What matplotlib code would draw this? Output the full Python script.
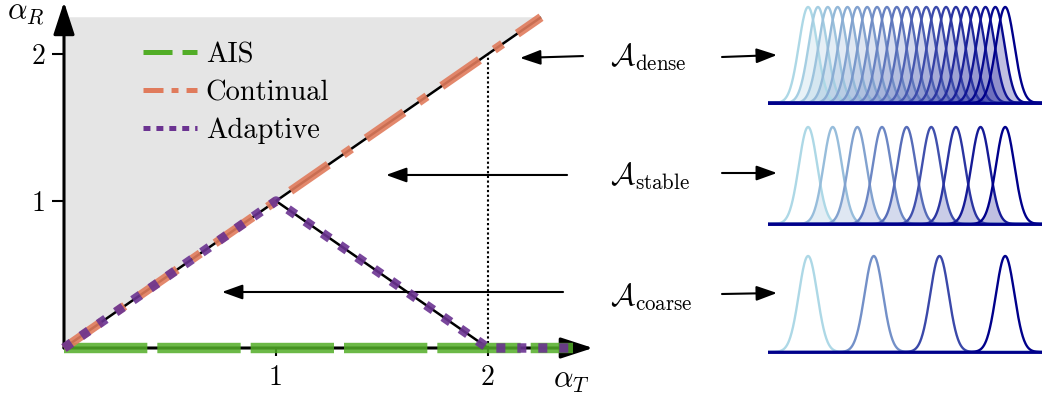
import numpy as np
import matplotlib
matplotlib.use('Agg')
import matplotlib.pyplot as plt
from matplotlib.lines import Line2D
from matplotlib.colors import LinearSegmentedColormap

plt.rcParams['font.family'] = 'serif'
plt.rcParams['font.serif'] = ['cmr10', 'DejaVu Serif']
plt.rcParams['mathtext.fontset'] = 'cm'
plt.rcParams['axes.formatter.use_mathtext'] = True
plt.rcParams['lines.scale_dashes'] = False

# ---------------- data ----------------
x_ticks = [1, 2]
y_ticks = [1, 2]
x_tick_labels = ['1', '2']
y_tick_labels = ['1', '2']

diag_x = [0.0, 2.25]
diag_y = [0.0, 2.25]
tent_x = [1.0, 2.0]
tent_y = [1.0, 0.0]
region_x = [0.0, 2.25, 0.0]
region_y = [0.0, 2.25, 2.25]
boundary_x = [2.0, 2.0]
boundary_y = [0.0, 2.0]

ais_x = [0.0, 2.4]
ais_y = [0.0, 0.0]
continual_x = [0.0, 2.25]
continual_y = [0.0, 2.25]
adaptive_x = [0.0, 1.0, 2.0, 2.4]
adaptive_y = [0.0, 1.0, 0.0, 0.0]

series_names = ['AIS', 'Continual', 'Adaptive']
series_colors = ['#52ad27', '#e07b5c', '#6b3391']

axis_x_end = 2.495
axis_y_end = 2.354

row_labels = [r'$\mathcal{A}_{\mathrm{dense}}$',
              r'$\mathcal{A}_{\mathrm{stable}}$',
              r'$\mathcal{A}_{\mathrm{coarse}}$']
# arrow (start, tip) in the alpha plane
row_arrow_start = [(2.448, 1.986), (2.373, 1.177), (2.354, 0.381)]
row_arrow_tip = [(2.151, 1.973), (1.519, 1.177), (0.745, 0.381)]

dense_centers = [0.0, 0.15, 0.3, 0.45, 0.6, 0.75, 0.9, 1.05, 1.2, 1.35, 1.5,
                 1.65, 1.8, 1.95, 2.1, 2.25, 2.4, 2.55, 2.7, 2.85, 3.0]
stable_centers = [0.0, 0.375, 0.75, 1.125, 1.5, 1.875, 2.25, 2.625, 3.0]
coarse_centers = [0.0, 1.0, 2.0, 3.0]
sigma = 0.14

# ---------------- figure ----------------
W, H = 1042, 399
fig = plt.figure(figsize=(W / 100, H / 100), dpi=100)

ax = fig.add_axes([0, 0, 620 / W, 1])
ax.set_xlim(-64 / 212, (620 - 64) / 212)
ax.set_ylim((348 - 399) / 147, 348 / 147)
for s in ax.spines.values():
    s.set_visible(False)
ax.spines['left'].set_position(('data', 0))
ax.spines['bottom'].set_position(('data', 0))
ax.patch.set_visible(False)

ax.fill(region_x, region_y, color='#e5e5e5', lw=0, zorder=0)

# axes arrows
arrow_kw = dict(arrowstyle='-|>,head_length=20,head_width=6.5', lw=2.2, color='k',
                shrinkA=0, shrinkB=0, mutation_scale=1)
ax.annotate('', xy=(axis_x_end, 0), xytext=(0, 0), arrowprops=arrow_kw, zorder=1)
ax.annotate('', xy=(0, axis_y_end), xytext=(0, 0), arrowprops=arrow_kw, zorder=1)

ax.plot(diag_x, diag_y, color='k', lw=1.8, zorder=1.5, solid_capstyle='butt')
ax.plot(tent_x, tent_y, color='k', lw=1.8, zorder=1.5, solid_capstyle='butt')
ax.plot(boundary_x, boundary_y, color='k', lw=1.5, dashes=(1.6, 1.8), zorder=1.5)

ax.plot(ais_x, ais_y, color=series_colors[0], lw=7.5, dashes=(60, 7.2), alpha=0.85,
        zorder=2, dash_capstyle='butt')
ax.plot(continual_x, continual_y, color=series_colors[1], lw=6.3,
        dashes=(33, 13, 7.2, 13), alpha=0.9, zorder=3, dash_capstyle='butt')
ax.plot(adaptive_x, adaptive_y, color=series_colors[2], lw=6.8, dashes=(6.5, 8.6),
        alpha=0.9, zorder=4, dash_capstyle='butt')

ax.set_xticks(x_ticks)
ax.set_xticklabels(x_tick_labels)
ax.set_yticks(y_ticks)
ax.set_yticklabels(y_tick_labels)
ax.tick_params(axis='x', direction='out', length=6, width=1.5, labelsize=20, pad=6)
ax.tick_params(axis='y', direction='out', length=9, width=1.5, labelsize=20, pad=4)

handles = [
    Line2D([], [], color=series_colors[0], lw=3.6, dashes=(20.9, 7.2)),
    Line2D([], [], color=series_colors[1], lw=3.6, dashes=(14.4, 5.8, 5, 5.8)),
    Line2D([], [], color=series_colors[2], lw=3.6, dashes=(5, 4.3)),
]
ax.legend(handles, series_names, loc='upper left', bbox_to_anchor=(143 / 620, 1 - 42 / 399),
          frameon=False, fontsize=20.5, borderpad=0, borderaxespad=0, handlelength=1.9,
          handletextpad=0.3, labelspacing=0.4)

for (sx, sy), (tx, ty) in zip(row_arrow_start, row_arrow_tip):
    ax.annotate('', xy=(tx, ty), xytext=(sx, sy), annotation_clip=False,
                arrowprops=dict(arrowstyle='-|>,head_length=12.5,head_width=4.5', lw=1.5,
                                color='k', shrinkA=0, shrinkB=0, mutation_scale=1))

fig.text(7 / W, 1 - 19 / H, r'$\alpha_R$', fontsize=22, ha='left', va='baseline')
fig.text(553 / W, 1 - 388 / H, r'$\alpha_T$', fontsize=22, ha='left', va='baseline')

label_baselines = [66, 185, 306]
right_arrow_y = [(57, 55), (173, 173), (294, 293)]
for lab, yb, (ya, yt) in zip(row_labels, label_baselines, right_arrow_y):
    fig.text(610 / W, 1 - yb / H, lab, fontsize=21.5, ha='left', va='baseline')
    ax.annotate('', xy=(777 / W, 1 - yt / H), xytext=(722 / W, 1 - ya / H),
                xycoords='figure fraction', textcoords='figure fraction',
                annotation_clip=False,
                arrowprops=dict(arrowstyle='-|>,head_length=12.5,head_width=4.5', lw=1.5,
                                color='k', shrinkA=0, shrinkB=0, mutation_scale=1))

# ---------------- right panels ----------------
cmap = LinearSegmentedColormap.from_list('blues2', ['lightblue', 'darkblue'])
rows = [(dense_centers, 103, 7), (stable_centers, 224, 127), (coarse_centers, 352, 256)]
xmin, xmax = -0.61, 3.56
xs = np.linspace(xmin, xmax, 800)
for centers, base_px, peak_px in rows:
    hpx = base_px - peak_px
    pad = 5
    rax = fig.add_axes([768 / W, 1 - (base_px + pad) / H, (W - 768) / W, (hpx + 2 * pad) / H])
    rax.set_xlim(xmin, xmax)
    rax.set_ylim(-pad / hpx, 1 + pad / hpx)
    rax.axis('off')
    n = len(centers)
    cols = [cmap(i / (n - 1)) for i in range(n)]
    gs = [np.exp(-(xs - c) ** 2 / (2 * sigma ** 2)) for c in centers]
    for i in range(n - 1):
        rax.fill_between(xs, 0, np.minimum(gs[i], gs[i + 1]), color=cols[i + 1],
                         alpha=0.25, lw=0)
    for g, c in zip(gs, cols):
        rax.plot(xs, g, color=c, lw=1.7, solid_capstyle='round')
    rax.axhline(0, color=cols[-1], lw=2.0)

fig.savefig('out.png', dpi=100)
